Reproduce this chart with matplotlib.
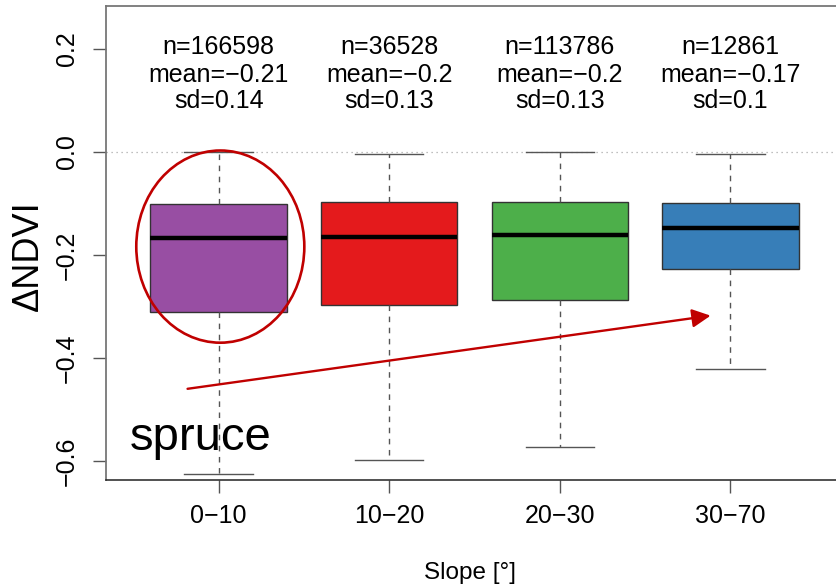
import matplotlib
matplotlib.use("Agg")
import matplotlib.pyplot as plt
from matplotlib.patches import Ellipse, FancyArrowPatch

plt.rcParams['font.family'] = ['Liberation Sans', 'DejaVu Sans']

# ---- data ----
categories = ["0\u221210", "10\u221220", "20\u221230", "30\u221270"]
whisker_low = [-0.626, -0.598, -0.572, -0.421]
q1 = [-0.310, -0.297, -0.287, -0.228]
medians = [-0.168, -0.165, -0.161, -0.148]
q3 = [-0.102, -0.098, -0.097, -0.100]
whisker_high = [0.0, -0.004, 0.0, -0.004]
n_obs = [166598, 36528, 113786, 12861]
means = ["\u22120.21", "\u22120.2", "\u22120.2", "\u22120.17"]
sds = ["0.14", "0.13", "0.13", "0.1"]
colors = ["#984EA3", "#E41A1C", "#4DAF4A", "#377EB8"]
yticks = [0.2, 0.0, -0.2, -0.4, -0.6]

W, H = 837, 587
fig = plt.figure(figsize=(W / 100, H / 100), dpi=100)
ax_l, ax_r, ax_t, ax_b = 106, 843, 6, 480
ax = fig.add_axes([ax_l / W, (H - ax_b) / H, (ax_r - ax_l) / W, (ax_b - ax_t) / H])

positions = list(range(1, len(categories) + 1))
stats = []
for i in range(len(categories)):
    stats.append(dict(med=medians[i], q1=q1[i], q3=q3[i],
                      whislo=whisker_low[i], whishi=whisker_high[i],
                      fliers=[], label=categories[i]))

ax.axhline(0, color="#aaaaaa", linestyle=(0, (1, 3)), linewidth=0.9, zorder=0)

bp = ax.bxp(stats, positions=positions, widths=0.8, capwidths=0.4,
            patch_artist=True, showfliers=False,
            boxprops=dict(edgecolor="#333333", linewidth=1.0),
            medianprops=dict(color="black", linewidth=3.2, solid_capstyle="butt"),
            whiskerprops=dict(color="#555555", linestyle=(0, (4, 4)), linewidth=1.0),
            capprops=dict(color="#555555", linewidth=1.0))
for patch, c in zip(bp["boxes"], colors):
    patch.set_facecolor(c)

ax.set_xlim(0.34, 4.66)
ax.set_ylim(-0.637, 0.283)

# annotations with counts / mean / sd
line_y = [0.204, 0.150, 0.099]
for i, x in enumerate(positions):
    ax.text(x, line_y[0], f"n={n_obs[i]}", ha="center", va="center", fontsize=18)
    ax.text(x, line_y[1], f"mean={means[i]}", ha="center", va="center", fontsize=18)
    ax.text(x, line_y[2], f"sd={sds[i]}", ha="center", va="center", fontsize=18)

# overlays
ax.add_patch(Ellipse((1.01, -0.184), 0.985, 0.373, fill=False,
                     edgecolor="#C00000", linewidth=1.9, zorder=5))
ax.add_patch(FancyArrowPatch((0.818, -0.460), (3.884, -0.318),
                             arrowstyle="-|>,head_length=7,head_width=3.5",
                             mutation_scale=1.6, color="#C00000",
                             linewidth=1.7, zorder=5, shrinkA=0, shrinkB=0))
ax.text(0.48, -0.555, "spruce", fontsize=34, ha="left", va="center")

# axes styling
ax.set_yticks(yticks)
ax.set_yticklabels([f"{v:.1f}".replace("-", "\u2212") for v in yticks])
ax.set_xticks(positions)
ax.set_xticklabels(categories)
ax.tick_params(axis="y", length=9.4, width=1, color="#555555", labelsize=18,
               pad=18.5, labelrotation=90)
ax.tick_params(axis="x", length=9.4, width=1, color="#555555", labelsize=18, pad=8)
for lab in ax.get_yticklabels():
    lab.set_ha("center")
    lab.set_va("center")

for s in ["left", "top"]:
    ax.spines[s].set_color("#777777")
    ax.spines[s].set_linewidth(1.3)
ax.spines["bottom"].set_color("#222222")
ax.spines["bottom"].set_linewidth(1.1)
ax.spines["right"].set_visible(False)

ax.set_ylabel("\u0394NDVI", fontsize=26, va="center")
ax.yaxis.set_label_coords((28 - ax_l) / (ax_r - ax_l), (ax_b - 256) / (ax_b - ax_t))
ax.set_xlabel("Slope [\u00b0]", fontsize=17.5, va="center")
ax.xaxis.set_label_coords((470 - ax_l) / (ax_r - ax_l), (ax_b - 573) / (ax_b - ax_t))

fig.savefig("out.png", dpi=100)
